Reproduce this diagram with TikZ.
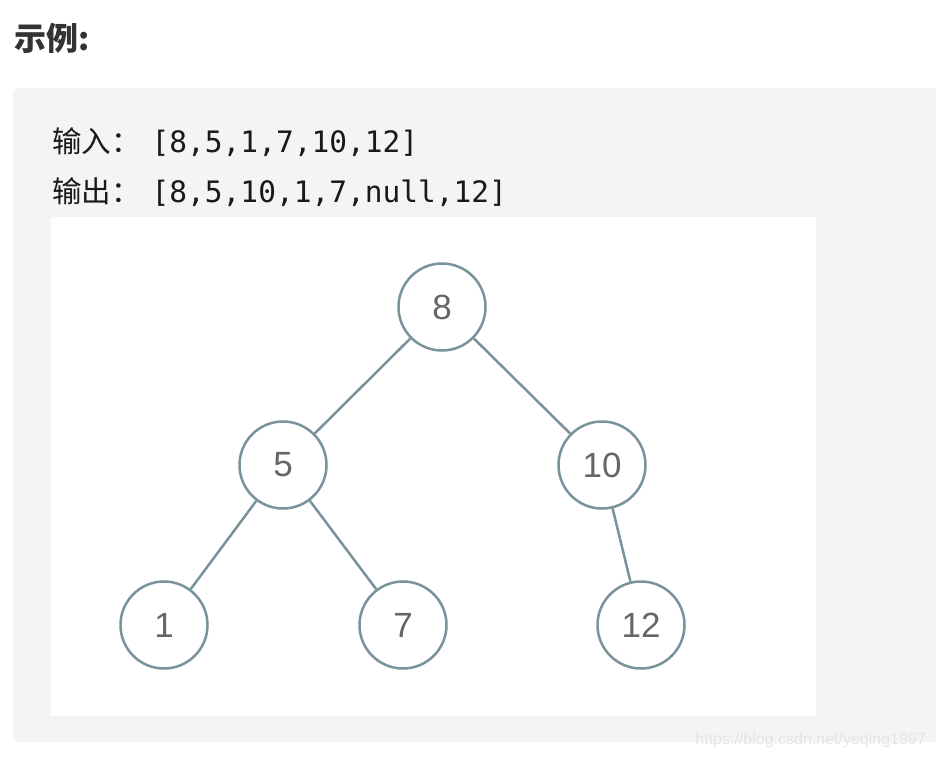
\documentclass[tikz,border=0pt]{standalone}
\usepackage{fontspec}
\setmainfont{Liberation Sans}
\setmonofont{DejaVu Sans Mono}
\newfontfamily\cjk{Noto Sans CJK SC}
\definecolor{boxgray}{HTML}{F4F4F4}
\definecolor{edgegray}{HTML}{7A929C}
\definecolor{numgray}{HTML}{666666}
\definecolor{titlegray}{HTML}{333333}
\definecolor{markgray}{HTML}{E4E4E4}
\tikzset{
  tnode/.style={circle, draw=edgegray, line width=2.5pt, minimum size=87pt, inner sep=0pt,
    text=numgray, font=\fontsize{35}{40}\selectfont},
  tedge/.style={draw=edgegray, line width=2.5pt},
  codeline/.style={anchor=base west, inner sep=0pt, text=black!90,
    font=\fontsize{29.5}{35}\selectfont}
}

\begin{document}
\begin{tikzpicture}[x=1pt, y=-1pt]
\useasboundingbox (0,0) rectangle (936,759);
% title
\node[anchor=west, inner sep=0pt, text=titlegray] (title) at (14,38)
  {\fontsize{32}{36}\selectfont\cjk\bfseries 示例:};
% gray box and white picture area
\fill[boxgray, rounded corners=6pt] (13,88) rectangle (945,742);
\fill[white] (51,217) rectangle (816,716);
% input / output lines
\node[codeline] (input) at (52,153) {{\cjk 输入：}\hspace{11pt}\ttfamily[8,5,1,7,10,12]};
\node[codeline] (output) at (52,203) {{\cjk 输出：}\hspace{11pt}\ttfamily[8,5,10,1,7,null,12]};
% tree
\node[tnode] (n8) at (442,307){8};
\node[tnode] (n5) at (283,465){5};
\node[tnode] (n10) at (602,465){10};
\node[tnode] (n1) at (164,625){1};
\node[tnode] (n7) at (403,625){7};
\node[tnode] (n12) at (641,625){12};
\draw[tedge] (n8) -- (n5);
\draw[tedge] (n8) -- (n10);
\draw[tedge] (n5) -- (n1);
\draw[tedge] (n5) -- (n7);
\draw[tedge] (n10) -- (n12);
% watermark
\node[anchor=east, inner sep=0pt, text=markgray, font=\fontsize{16}{20}\selectfont] (mark) at (926,740)
  {https://blog.csdn.net/yeqing1997};
\end{tikzpicture}
\end{document}
